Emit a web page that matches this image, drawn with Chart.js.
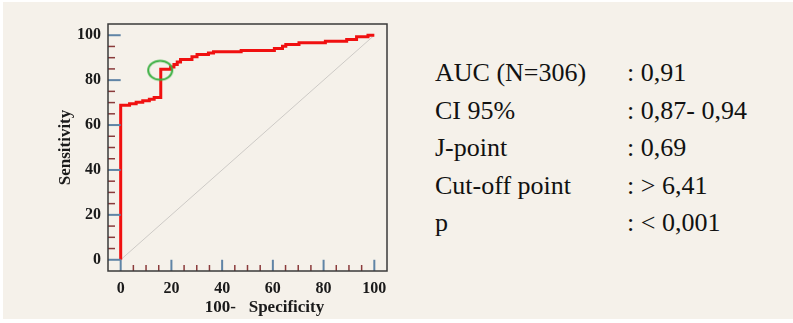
<!DOCTYPE html>
<html>
<head>
<meta charset="utf-8">
<script src="https://cdn.jsdelivr.net/npm/chart.js@4"></script>
<style>
  html, body { margin: 0; padding: 0; background: #ffffff; }
  #page {
    position: absolute; left: 3px; top: 2px; width: 790px; height: 317px;
    background: #f5f1ea;
  }
  #chartBox { position: absolute; left: -3px; top: -2px; width: 400px; height: 323px; }
  .stats {
    position: absolute; top: 52px;
    font-family: "Liberation Serif", "Times New Roman", serif;
    font-size: 26px; line-height: 37.5px; color: #111;
    white-space: pre;
  }
  #statNames { left: 432px; }
  #statValues { left: 624px; }
</style>
</head>
<body>
<div id="page">
  <div id="chartBox"><canvas id="myChart"></canvas></div>
  <div class="stats" id="statNames"></div>
  <div class="stats" id="statValues"></div>
</div>
<script>
// ROC curve (100-specificity, sensitivity)
const rocX = [0, 0, 3.5, 6.1, 8.7, 11.3, 13.2, 15.8, 19.7, 21, 22.3, 23.6, 28.1, 30.1, 34.6, 36.6, 47.5, 60.6, 63.8, 65.1, 70.3, 80.7, 89.1, 93, 97.5, 100];
const rocY = [0, 68.8, 69.5, 70.2, 70.8, 71.5, 72.3, 84.8, 85.9, 87, 88.1, 89.2, 90.4, 91.4, 92.1, 92.6, 93.2, 94.1, 95.1, 95.9, 96.6, 97.3, 98.1, 99.3, 100, 100];
const diagX = [0, 100];
const diagY = [0, 100];
const jPoint = [15.6, 84.4];
const tickValues = [0, 20, 40, 60, 80, 100];

const statNames = ["AUC (N=306)", "CI 95%", "J-point", "Cut-off point", "p"];
const statValues = [": 0,91", ": 0,87- 0,94", ": 0,69", ": > 6,41", ": < 0,001"];

document.getElementById('statNames').textContent = statNames.join('\n');
document.getElementById('statValues').textContent = statValues.join('\n');

// green ellipse used as the marker of the J-point
const ring = document.createElement('canvas');
ring.width = 28; ring.height = 24;
const rctx = ring.getContext('2d');
rctx.strokeStyle = '#3cb043';
rctx.lineWidth = 2;
rctx.beginPath();
rctx.ellipse(14, 12, 12, 9.5, 0, 0, Math.PI * 2);
rctx.stroke();

const serif = "'Liberation Serif', 'Times New Roman', serif";

// frame plus the little ticks that sit inside it
const frameTicks = {
  id: 'frameTicks',
  afterDatasetsDraw(chart) {
    const {ctx, chartArea, scales} = chart;
    const xs = scales.x, ys = scales.y;
    ctx.save();
    const x0 = xs.getPixelForValue(0);
    const y0 = ys.getPixelForValue(0);
    for (let v = 0; v <= 100; v += 5) {
      const major = v % 20 === 0;
      ctx.strokeStyle = major ? '#5f84a6' : '#8a3b3b';
      ctx.lineWidth = major ? 2 : 1.5;
      const yp = ys.getPixelForValue(v);
      ctx.beginPath();
      ctx.moveTo(chartArea.left, yp);
      ctx.lineTo(major ? x0 : chartArea.left + 7, yp);
      ctx.stroke();
      const xp = xs.getPixelForValue(v);
      ctx.beginPath();
      ctx.moveTo(xp, chartArea.bottom);
      ctx.lineTo(xp, major ? y0 : chartArea.bottom - 6);
      ctx.stroke();
    }
    ctx.strokeStyle = '#3a3a3a';
    ctx.lineWidth = 1.5;
    ctx.strokeRect(chartArea.left, chartArea.top, chartArea.right - chartArea.left, chartArea.bottom - chartArea.top);
    ctx.restore();
  }
};

const ctx = document.getElementById('myChart').getContext('2d');
new Chart(ctx, {
  type: 'line',
  data: {
    datasets: [{
      label: 'Reference',
      data: diagX.map((x, i) => ({x: x, y: diagY[i]})),
      borderColor: '#cdcac6',
      borderWidth: 1,
      pointRadius: 0,
      order: 3
    }, {
      label: 'ROC',
      data: rocX.map((x, i) => ({x: x, y: rocY[i]})),
      borderColor: '#f01010',
      borderWidth: 3,
      pointRadius: 0,
      stepped: 'before',
      order: 2
    }, {
      label: 'J-point',
      type: 'scatter',
      data: [{x: jPoint[0], y: jPoint[1]}],
      pointStyle: ring,
      pointRadius: 12,
      order: 1
    }]
  },
  options: {
    responsive: true,
    maintainAspectRatio: false,
    animation: false,
    events: [],
    layout: { padding: { top: 24, right: 10, left: 0, bottom: 0 } },
    plugins: { legend: { display: false }, tooltip: { enabled: false } },
    scales: {
      x: {
        type: 'linear', min: -5, max: 105,
        afterBuildTicks: s => { s.ticks = tickValues.map(v => ({value: v})); },
        afterFit: s => { s.height = 52; },
        grid: { display: false, drawTicks: false },
        border: { display: false },
        ticks: { padding: 8, color: '#1a1a1a', maxRotation: 0,
          font: { family: serif, size: 16, weight: 'bold' } },
        title: { display: true, text: '\u2003\u2003100-   Specificity', color: '#1a1a1a',
          padding: { top: 0, bottom: 5 },
          font: { family: serif, size: 17, weight: 'bold' } }
      },
      y: {
        type: 'linear', min: -5, max: 105,
        afterBuildTicks: s => { s.ticks = tickValues.map(v => ({value: v})); },
        afterFit: s => { s.width = 108; },
        grid: { display: false, drawTicks: false },
        border: { display: false },
        ticks: { padding: 7, color: '#1a1a1a',
          font: { family: serif, size: 16, weight: 'bold' } },
        title: { display: true, text: 'Sensitivity', color: '#1a1a1a',
          padding: { top: 55, bottom: 0 },
          font: { family: serif, size: 17, weight: 'bold' } }
      }
    }
  },
  plugins: [frameTicks]
});
</script>
</body>
</html>
